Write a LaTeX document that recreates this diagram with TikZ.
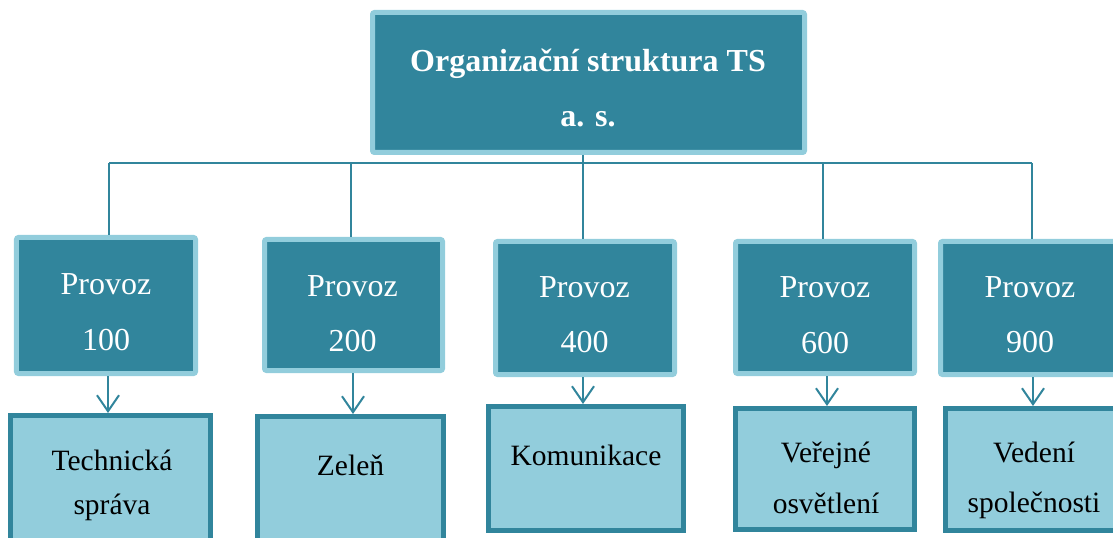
\documentclass[tikz,border=0pt]{standalone}
\usepackage{fontspec}
\setmainfont{Liberation Serif}
\usetikzlibrary{arrows.meta}
\definecolor{tsdark}{HTML}{31859C}
\definecolor{tslight}{HTML}{92CDDC}
\begin{document}
\begin{tikzpicture}[x=1bp,y=-1bp,
  darkbox/.style={fill=tsdark, draw=tslight, line width=5bp, rounded corners=2bp, inner sep=0pt},
  unitbox/.style={fill=tslight, draw=tsdark, line width=5bp, inner sep=0pt},
  titletxt/.style={text=white, anchor=base, inner sep=0pt, font=\fontsize{32bp}{32bp}\selectfont\bfseries},
  provtxt/.style={text=white, anchor=base, inner sep=0pt, font=\fontsize{32bp}{32bp}\selectfont},
  unittxt/.style={text=black, anchor=base, inner sep=0pt, font=\fontsize{29.5bp}{29.5bp}\selectfont},
  conn/.style={draw=tsdark, line width=2bp},
  arr/.style={draw=tsdark, line width=2bp, -{Straight Barb[length=16bp,width=22bp]}}
]
\useasboundingbox (0,0) rectangle (1113,538);
\clip (0,0) rectangle (1113,538);

% top box
\node[darkbox, minimum width=432bp, minimum height=140bp] (top) at (588.5,82.5) {};
\node[titletxt] (t1) at (588,72) {Organizační struktura TS};
\node[titletxt] (t2) at (588,127) {a. s.};

% provoz boxes
\node[darkbox, minimum width=179bp, minimum height=136bp] (p100) at (106,305.5) {};
\node[darkbox, minimum width=178bp, minimum height=131bp] (p200) at (353.5,305) {};
\node[darkbox, minimum width=179bp, minimum height=133bp] (p400) at (585,308) {};
\node[darkbox, minimum width=179bp, minimum height=132bp] (p600) at (825,307.5) {};
\node[darkbox, minimum width=179bp, minimum height=133bp] (p900) at (1030,308) {};

\node[provtxt] (p100a) at (106,295) {Provoz};
\node[provtxt] (p100b) at (106,351) {100};
\node[provtxt] (p200a) at (352.5,297) {Provoz};
\node[provtxt] (p200b) at (352.5,352) {200};
\node[provtxt] (p400a) at (584.5,298) {Provoz};
\node[provtxt] (p400b) at (584.5,353) {400};
\node[provtxt] (p600a) at (825,298) {Provoz};
\node[provtxt] (p600b) at (825,354) {600};
\node[provtxt] (p900a) at (1030,298) {Provoz};
\node[provtxt] (p900b) at (1030,353) {900};

% unit boxes
\node[unitbox, minimum width=200bp, minimum height=130bp] (u100) at (110.5,480.5) {};
\node[unitbox, minimum width=186bp, minimum height=129bp] (u200) at (350.5,481) {};
\node[unitbox, minimum width=195bp, minimum height=124bp] (u400) at (586,468.5) {};
\node[unitbox, minimum width=179bp, minimum height=121bp] (u600) at (825,469) {};
\node[unitbox, minimum width=177bp, minimum height=122bp] (u900) at (1034,469.5) {};

\node[unittxt] (u100a) at (112,470) {Technická};
\node[unittxt] (u100b) at (112,514) {správa};
\node[unittxt] (u200a) at (350.5,475) {Zeleň};
\node[unittxt] (u400a) at (586,465) {Komunikace};
\node[unittxt] (u600a) at (826,462) {Veřejné};
\node[unittxt] (u600b) at (826,513) {osvětlení};
\node[unittxt] (u900a) at (1034,462) {Vedení};
\node[unittxt] (u900b) at (1034,512) {společnosti};

% bus connectors
\coordinate (d100) at (109,163);
\coordinate (d200) at (351,163);
\coordinate (d400) at (583,163);
\coordinate (d600) at (823,163);
\coordinate (d900) at (1032,163);
\draw[conn] (d100) -- (d900);
\draw[conn] (top.south -| d400) -- (p400.north -| d400);
\draw[conn] (d100) -- (p100.north -| d100);
\draw[conn] (d200) -- (p200.north -| d200);
\draw[conn] (d600) -- (p600.north -| d600);
\draw[conn] (d900) -- (p900.north -| d900);

% arrows
\coordinate (a100) at (108,390);
\coordinate (a200) at (353,390);
\coordinate (a400) at (583,390);
\coordinate (a600) at (827,390);
\coordinate (a900) at (1033,390);
\draw[arr] (p100.south -| a100) -- (u100.north -| a100);
\draw[arr] (p200.south -| a200) -- (u200.north -| a200);
\draw[arr] (p400.south -| a400) -- (u400.north -| a400);
\draw[arr] (p600.south -| a600) -- (u600.north -| a600);
\draw[arr] (p900.south -| a900) -- (u900.north -| a900);
\end{tikzpicture}
\end{document}
